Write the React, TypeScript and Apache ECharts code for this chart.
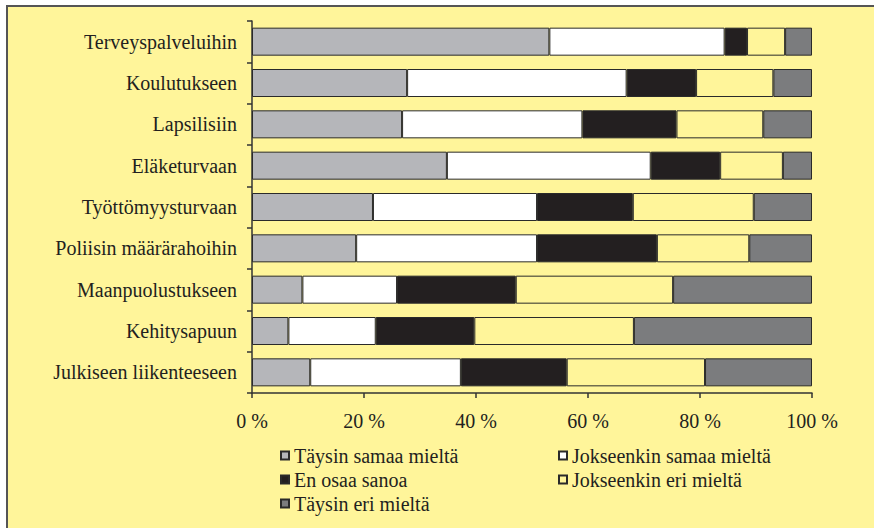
import React, { useEffect, useRef } from "react";
import * as echarts from "echarts";

const categories = [
  "Terveyspalveluihin",
  "Koulutukseen",
  "Lapsilisiin",
  "Eläketurvaan",
  "Työttömyysturvaan",
  "Poliisin määrärahoihin",
  "Maanpuolustukseen",
  "Kehitysapuun",
  "Julkiseen liikenteeseen",
];

const seriesNames = [
  "Täysin samaa mieltä",
  "Jokseenkin samaa mieltä",
  "En osaa sanoa",
  "Jokseenkin eri mieltä",
  "Täysin eri mieltä",
];

const taysinSamaa = [53.1, 27.7, 26.8, 34.8, 21.6, 18.6, 9.0, 6.5, 10.4];
const jokseenkinSamaa = [31.3, 39.2, 32.2, 36.4, 29.3, 32.3, 16.9, 15.6, 26.9];
const enOsaa = [4.0, 12.4, 16.8, 12.4, 17.1, 21.4, 21.2, 17.6, 18.9];
const jokseenkinEri = [6.8, 13.8, 15.5, 11.2, 21.6, 16.5, 28.1, 28.5, 24.7];
const taysinEri = [4.8, 6.9, 8.7, 5.2, 10.4, 11.2, 24.8, 31.8, 19.1];

const seriesData = [taysinSamaa, jokseenkinSamaa, enOsaa, jokseenkinEri, taysinEri];
const colors = ["#b5b6ba", "#ffffff", "#231f20", "#fff59a", "#7b7c7e"];

const FONT = "'Liberation Serif', 'Times New Roman', serif";
const TEXT = "#231f20";
const FS = 20;

export default function App() {
  const ref = useRef<HTMLDivElement>(null);
  useEffect(() => {
    document.body.style.margin = "0";
    const chart = echarts.init(ref.current!, null, { renderer: "svg" });
    chart.setOption({
      animation: false,
      backgroundColor: "#ffffff",
      textStyle: { fontFamily: FONT, color: TEXT },
      graphic: [
        {
          type: "rect",
          z: -10,
          silent: true,
          shape: { x: 7, y: 6, width: 900, height: 560 },
          style: { fill: "#fff59a", stroke: "#555555", lineWidth: 2 },
        },
      ],
      grid: { left: 252, right: 62, top: 21, bottom: 135 },
      xAxis: {
        type: "value",
        min: 0,
        max: 100,
        interval: 20,
        axisLine: { show: true, lineStyle: { color: "#333333", width: 1.5 } },
        axisTick: { show: true, length: 5, lineStyle: { color: "#333333", width: 1.5 } },
        splitLine: { show: false },
        axisLabel: {
          formatter: "{value} %",
          fontFamily: FONT,
          fontSize: FS,
          color: TEXT,
          margin: 18,
        },
      },
      yAxis: {
        type: "category",
        data: categories,
        inverse: true,
        axisLine: { show: true, lineStyle: { color: "#333333", width: 1.5 } },
        axisTick: { show: true, length: 5, lineStyle: { color: "#333333", width: 1.5 } },
        axisLabel: { fontFamily: FONT, fontSize: FS, color: TEXT, margin: 15 },
      },
      legend: [
        {
          left: 275,
          top: 440,
          orient: "vertical",
          data: [seriesNames[0], seriesNames[2], seriesNames[4]],
          itemWidth: 8,
          itemHeight: 8,
          itemGap: 3,
          selectedMode: false,
          icon: "rect",
          textStyle: { fontFamily: FONT, fontSize: FS, color: TEXT, lineHeight: 21 },
        },
        {
          left: 553,
          top: 440,
          orient: "vertical",
          data: [seriesNames[1], seriesNames[3]],
          itemWidth: 8,
          itemHeight: 8,
          itemGap: 3,
          selectedMode: false,
          icon: "rect",
          textStyle: { fontFamily: FONT, fontSize: FS, color: TEXT, lineHeight: 21 },
        },
      ],
      series: seriesNames.map((name, i) => ({
        name,
        type: "bar",
        stack: "total",
        barWidth: 28,
        data: seriesData[i],
        itemStyle: { color: colors[i], borderColor: "#2a2a2a", borderWidth: 1 },
        emphasis: { disabled: true },
      })),
    });
    return () => chart.dispose();
  }, []);
  return <div ref={ref} style={{ width: 874, height: 528 }} />;
}
